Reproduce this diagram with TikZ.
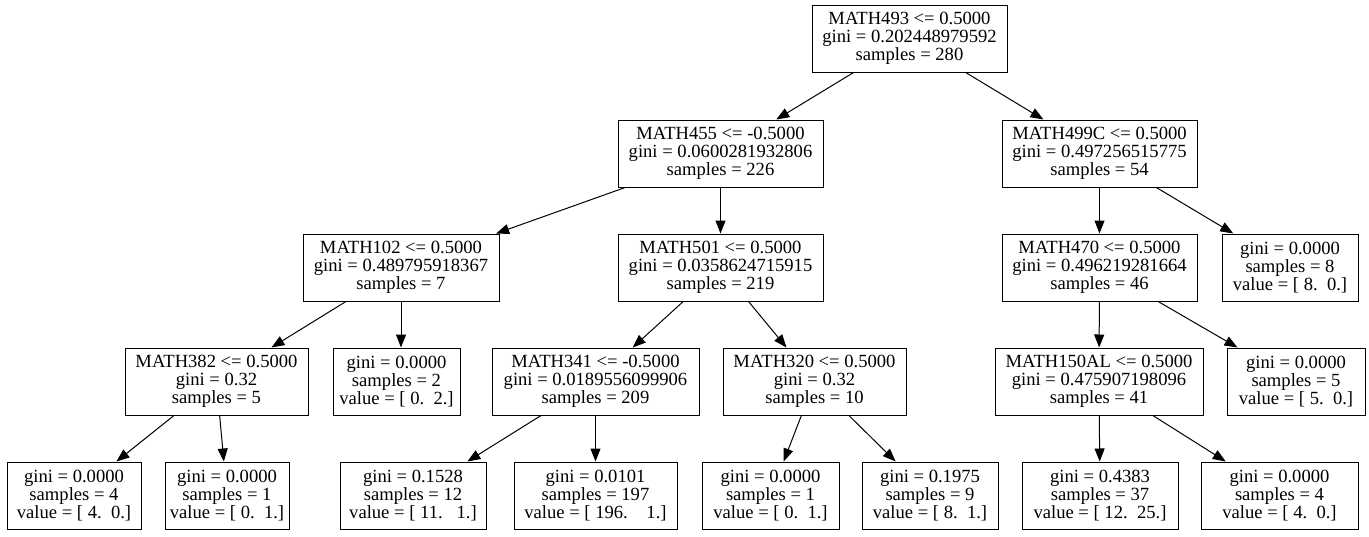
\documentclass[tikz,border=0pt]{standalone}
\usepackage{fontspec}
\setmainfont{Liberation Serif}
\usetikzlibrary{arrows.meta}
\begin{document}
\begin{tikzpicture}[x=1pt,y=-1pt,
  box/.style={draw, line width=1pt, inner sep=0pt, minimum height=67pt, align=center,
    font=\fontsize{18.6}{18}\selectfont},
  edge/.style={line width=1pt, -{Triangle[length=13pt,width=10pt]}}]
\useasboundingbox (0,0) rectangle (1369,536);
% level 0
\node[box, minimum width=195pt] (root) at (909.5,38.5) {MATH493 <= 0.5000\\gini = 0.202448979592\\samples = 280};
% level 1
\node[box, minimum width=205pt] (n455) at (720.5,153.5) {MATH455 <= -0.5000\\gini = 0.0600281932806\\samples = 226};
\node[box, minimum width=195pt] (n499) at (1099.5,153.5) {MATH499C <= 0.5000\\gini = 0.497256515775\\samples = 54};
% level 2
\node[box, minimum width=196pt] (n102) at (401,267.5) {MATH102 <= 0.5000\\gini = 0.489795918367\\samples = 7};
\node[box, minimum width=205pt] (n501) at (720.5,267.5) {MATH501 <= 0.5000\\gini = 0.0358624715915\\samples = 219};
\node[box, minimum width=195pt] (n470) at (1099.5,267.5) {MATH470 <= 0.5000\\gini = 0.496219281664\\samples = 46};
\node[box, minimum width=136pt] (l8) at (1290,267.5) {gini = 0.0000\\samples = 8\\value = [ 8.\ \ 0.]};
% level 3
\node[box, minimum width=183pt] (n382) at (216.5,381.5) {MATH382 <= 0.5000\\gini = 0.32\\samples = 5};
\node[box, minimum width=127pt] (l2) at (396.5,381.5) {gini = 0.0000\\samples = 2\\value = [ 0.\ \ 2.]};
\node[box, minimum width=207pt] (n341) at (595.5,381.5) {MATH341 <= -0.5000\\gini = 0.0189556099906\\samples = 209};
\node[box, minimum width=183pt] (n320) at (814.5,381.5) {MATH320 <= 0.5000\\gini = 0.32\\samples = 10};
\node[box, minimum width=208pt] (n150) at (1099,381.5) {MATH150AL <= 0.5000\\gini = 0.475907198096\\samples = 41};
\node[box, minimum width=138pt] (l5) at (1296,381.5) {gini = 0.0000\\samples = 5\\value = [ 5.\ \ 0.]};
% level 4
\node[box, minimum width=134pt] (la) at (74,495.5) {gini = 0.0000\\samples = 4\\value = [ 4.\ \ 0.]};
\node[box, minimum width=124pt] (lb) at (227,495.5) {gini = 0.0000\\samples = 1\\value = [ 0.\ \ 1.]};
\node[box, minimum width=146pt] (lc) at (413,495.5) {gini = 0.1528\\samples = 12\\value = [ 11.\ \ \ 1.]};
\node[box, minimum width=163pt] (ld) at (595.5,495.5) {gini = 0.0101\\samples = 197\\value = [ 196.\ \ \ \ 1.]};
\node[box, minimum width=137pt] (le) at (770.5,495.5) {gini = 0.0000\\samples = 1\\value = [ 0.\ \ 1.]};
\node[box, minimum width=136pt] (lf) at (930,495.5) {gini = 0.1975\\samples = 9\\value = [ 8.\ \ 1.]};
\node[box, minimum width=156pt] (lg) at (1100,495.5) {gini = 0.4383\\samples = 37\\value = [ 12.\ \ 25.]};
\node[box, minimum width=157pt] (lh) at (1279.5,495.5) {gini = 0.0000\\samples = 4\\value = [ 4.\ \ 0.]};
% edges
\draw[edge] (root) -- (n455);
\draw[edge] (root) -- (n499);
\draw[edge] (n455) -- (n102);
\draw[edge] (n455) -- (n501);
\draw[edge] (n499) -- (n470);
\draw[edge] (n499) -- (l8);
\draw[edge] (n102) -- (n382);
\draw[edge] (n102.south) -- (n102.south |- l2.north);
\draw[edge] (n501) -- (n341);
\draw[edge] (n501) -- (n320);
\draw[edge] (n470) -- (n150);
\draw[edge] (n470) -- (l5);
\draw[edge] (n382) -- (la);
\draw[edge] (n382) -- (lb);
\draw[edge] (n341) -- (lc);
\draw[edge] (n341) -- (ld);
\draw[edge] (n320) -- (le);
\draw[edge] (n320) -- (lf);
\draw[edge] (n150) -- (lg);
\draw[edge] (n150) -- (lh);
\end{tikzpicture}
\end{document}
